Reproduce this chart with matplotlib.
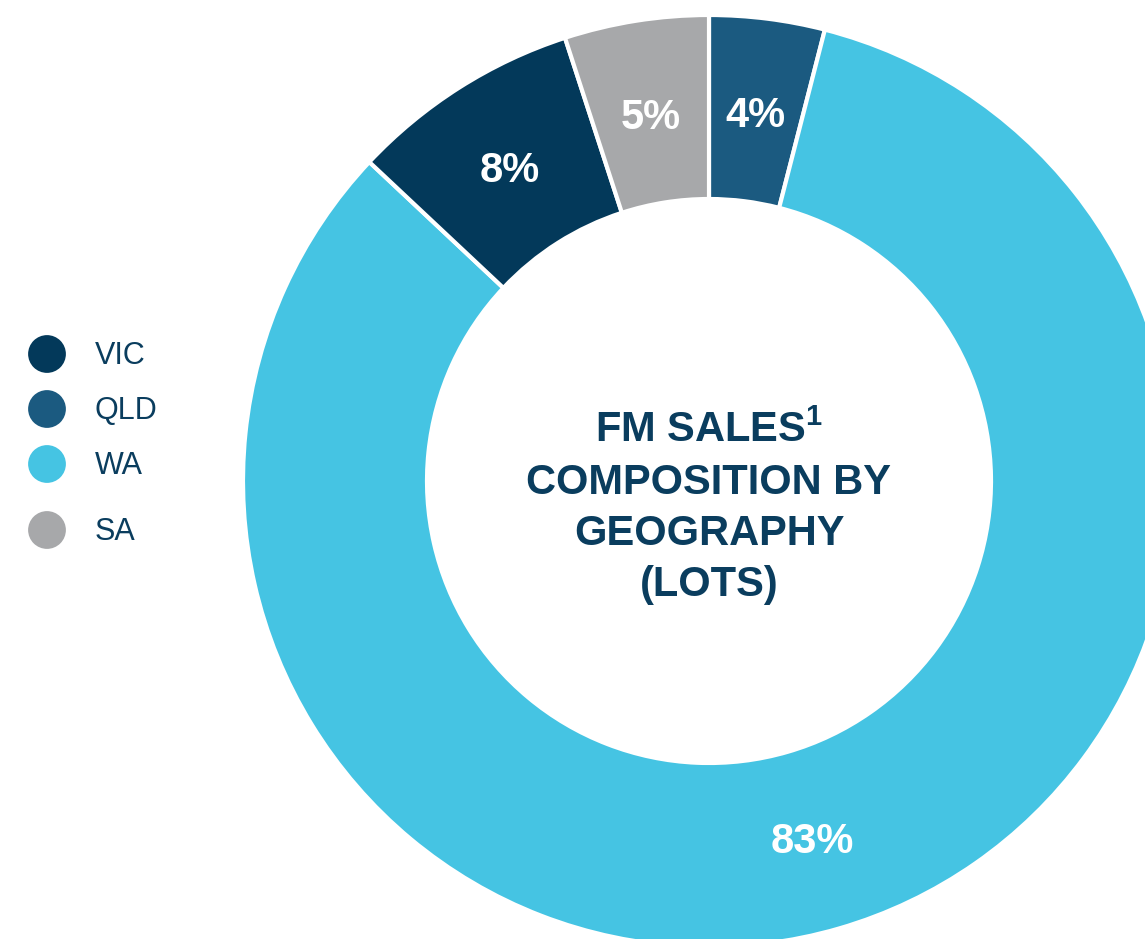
import matplotlib
matplotlib.use("Agg")
import matplotlib.pyplot as plt

plt.rcParams["mathtext.fontset"] = "custom"
plt.rcParams["mathtext.bf"] = "Liberation Sans:bold"
plt.rcParams["mathtext.rm"] = "Liberation Sans:bold"
plt.rcParams["mathtext.default"] = "bf"

# Data (clockwise from 12 o'clock)
pie_regions = ["QLD", "WA", "VIC", "SA"]
pie_values = [4, 83, 8, 5]

legend_regions = ["VIC", "QLD", "WA", "SA"]
colors = {"VIC": "#03395A", "QLD": "#1B5A80", "WA": "#45C4E3", "SA": "#A7A8AA"}
navy = "#0A3D5E"

W, H = 1145, 939
fig = plt.figure(figsize=(W / 100, H / 100), dpi=100)
ax = fig.add_axes([0, 0, 1, 1])

cx, cy = 709, H - 481
R_out, R_in = 466, 282

wedges, texts, autotexts = ax.pie(
    pie_values,
    colors=[colors[r] for r in pie_regions],
    startangle=90,
    counterclock=False,
    center=(cx, cy),
    radius=R_out,
    autopct=lambda p: f"{p:.0f}%",
    pctdistance=(R_out + R_in) / 2 / R_out - 0.005,
    wedgeprops=dict(width=R_out - R_in, edgecolor="white", linewidth=3),
    textprops=dict(color="white", fontsize=30, fontweight="bold",
                   family=["Liberation Sans", "DejaVu Sans"]),
    frame=True,
)
for t in autotexts:
    x, y = t.get_position()
    t.set_position((x, y - 4))

ax.set_xlim(0, W)
ax.set_ylim(0, H)
ax.set_aspect("equal")
ax.axis("off")

ax.text(cx, H - 508, "FM SALES$^{1}$\nCOMPOSITION BY\nGEOGRAPHY\n(LOTS)",
        ha="center", va="center", fontsize=30, fontweight="bold",
        color=navy, linespacing=1.36, family=["Liberation Sans", "DejaVu Sans"])

# Legend
legend_y = [354, 409, 464, 530]
for reg, y in zip(legend_regions, legend_y):
    ax.scatter([47], [H - y], s=740, color=colors[reg], edgecolors="none", zorder=5)
    ax.text(95, H - y - 2, reg, ha="left", va="center", fontsize=22,
            color=navy, family=["Liberation Sans", "DejaVu Sans"])

fig.savefig("out.png", dpi=100)
